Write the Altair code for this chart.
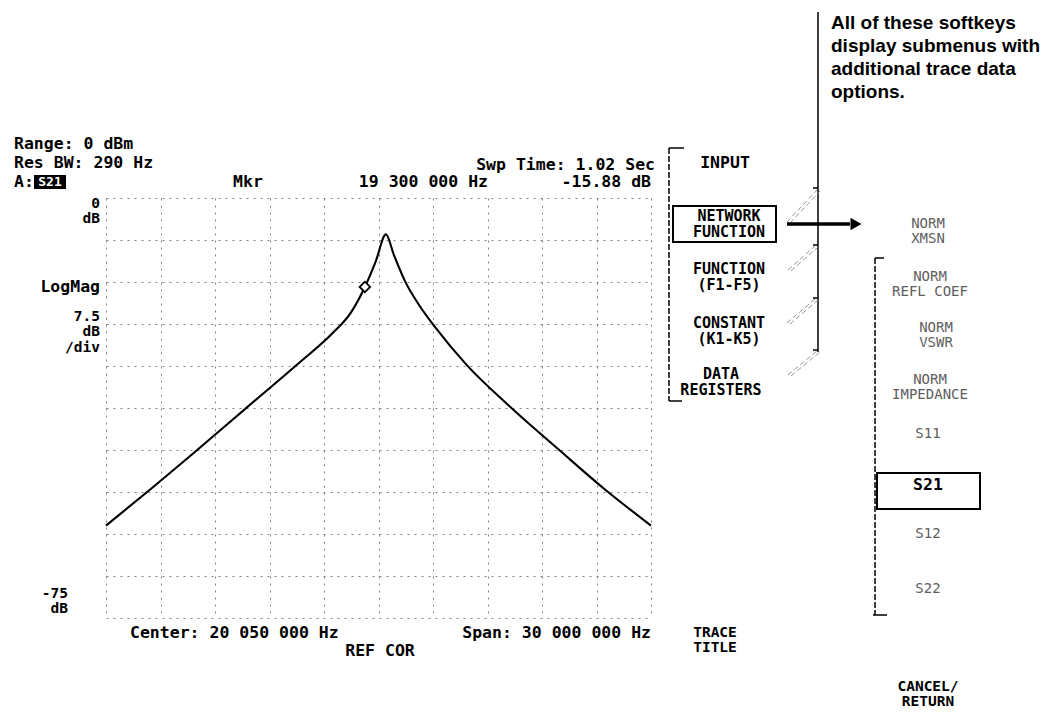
import altair as alt
import pandas as pd

# ---------------- data ----------------
freq_mhz = [5.05, 7.50, 9.78, 12.70, 15.62, 17.50, 18.50, 19.30, 19.90, 20.46,
            20.90, 21.50, 22.30, 23.20, 24.90, 27.20, 30.00, 32.50, 35.05]
mag_db = [-58.5, -52.0, -45.8, -37.7, -29.6, -24.2, -20.6, -15.88, -11.3, -6.5,
          -10.2, -14.8, -19.2, -23.2, -29.8, -37.0, -45.0, -52.0, -58.5]

marker_freq = [19.30]
marker_db = [-15.88]

x_grid = [5.05, 8.05, 11.05, 14.05, 17.05, 20.05, 23.05, 26.05, 29.05, 32.05, 35.05]
y_grid = [0, -7.5, -15, -22.5, -30, -37.5, -45, -52.5, -60, -67.5, -75]

# ---------------- layout ----------------
OX, OY = 106, 198          # page position of the plot area
W, H = 545, 420
MONO = "DejaVu Sans Mono"
SANS = "Liberation Sans"


def tdf(rows, size):
    df = pd.DataFrame(rows, columns=["label", "px", "py"])
    df["vx"] = df["px"] - OX
    # py is the centre of the first line; baseline "top" is used
    df["vy"] = df["py"] - OY - 0.425 * size
    return df


def text_layer(rows, align, font=MONO, size=16.5, weight="bold", color="black",
               line=16):
    return alt.Chart(tdf(rows, size)).mark_text(
        align=align, baseline="top", font=font, fontSize=size,
        fontWeight=weight, color=color, lineBreak="\n", lineHeight=line
    ).encode(
        x=alt.X("vx:Q", scale=None, axis=None),
        y=alt.Y("vy:Q", scale=None, axis=None),
        text="label:N",
    )


def seg_df(rows):
    df = pd.DataFrame(rows, columns=["x1", "y1", "x2", "y2"])
    df["vx"] = df["x1"] - OX
    df["vy"] = df["y1"] - OY
    df["vx2"] = df["x2"] - OX
    df["vy2"] = df["y2"] - OY
    return df


def seg_layer(rows, width=1.5, color="black", dash=None):
    kw = dict(strokeWidth=width, color=color)
    if dash:
        kw["strokeDash"] = dash
    return alt.Chart(seg_df(rows)).mark_rule(**kw).encode(
        x=alt.X("vx:Q", scale=None, axis=None),
        y=alt.Y("vy:Q", scale=None, axis=None),
        x2="vx2:Q",
        y2="vy2:Q",
    )


def rect_layer(rows, fill=None, stroke="black", width=1.8):
    kw = dict(stroke=stroke, strokeWidth=width)
    kw["fill"] = fill if fill else "transparent"
    return alt.Chart(seg_df(rows)).mark_rect(**kw).encode(
        x=alt.X("vx:Q", scale=None, axis=None),
        y=alt.Y("vy:Q", scale=None, axis=None),
        x2="vx2:Q",
        y2="vy2:Q",
    )


# ---------------- main plot ----------------
trace_df = pd.DataFrame({"f": freq_mhz, "db": mag_db})
mk_df = pd.DataFrame({"f": marker_freq, "db": marker_db})

xs = alt.Scale(domain=[5.05, 35.05], nice=False, zero=False)
ys = alt.Scale(domain=[-75, 0], nice=False, zero=False)

grid_axis_x = alt.Axis(values=x_grid, labels=False, ticks=False, domain=False,
                       grid=True, gridColor="#808080", gridDash=[2, 5],
                       gridWidth=1, title=None)
grid_axis_y = alt.Axis(values=y_grid, labels=False, ticks=False, domain=False,
                       grid=True, gridColor="#808080", gridDash=[2, 5],
                       gridWidth=1, title=None)

trace = alt.Chart(trace_df).mark_line(color="black", strokeWidth=2.1,
                                      interpolate="monotone").encode(
    x=alt.X("f:Q", scale=xs, axis=grid_axis_x),
    y=alt.Y("db:Q", scale=ys, axis=grid_axis_y),
)
marker = alt.Chart(mk_df).mark_point(shape="diamond", size=110, filled=True,
                                     fill="white", stroke="black",
                                     strokeWidth=1.8, opacity=1).encode(
    x=alt.X("f:Q", scale=xs),
    y=alt.Y("db:Q", scale=ys),
)
main = alt.layer(trace, marker)

# ---------------- annotations ----------------
topleft_txt = text_layer([
    ("Range: 0 dBm\nRes BW: 290 Hz\nA:", 14, 143),
], "left", line=19)

left_txt = text_layer([
    ("Center: 20 050 000 Hz", 130, 632),
], "left")

center_txt = text_layer([
    ("Mkr", 248, 181),
    ("REF COR", 380, 650),
    ("INPUT", 725, 162),
    ("S21", 928, 484),
], "center")

menu_txt = text_layer([
    ("NETWORK\nFUNCTION", 729, 215),
    ("FUNCTION\n(F1-F5)", 729, 268),
    ("CONSTANT\n(K1-K5)", 729, 322),
    ("DATA\nREGISTERS", 721, 373),
], "center", size=15, line=16)

bottom_menu_txt = text_layer([
    ("TRACE\nTITLE", 715, 632),
    ("CANCEL/\nRETURN", 928, 686),
], "center", size=14.5, line=15.5)

right_txt = text_layer([
    ("Swp Time: 1.02 Sec", 655, 164),
    ("19 300 000 Hz", 488, 181),
    ("-15.88 dB", 651, 181),
    ("LogMag", 100, 286),
    ("Span: 30 000 000 Hz", 651, 632),
], "right")

scale_txt = text_layer([
    ("0\ndB", 100, 203),
    ("7.5\ndB\n/div", 100, 316),
    ("-75\ndB", 68, 593),
], "right", size=14.5, line=15.5)

dim_txt = text_layer([
    ("NORM\nXMSN", 928, 223),
    ("NORM\nREFL COEF", 930, 276),
    ("NORM\nVSWR", 936, 327),
    ("NORM\nIMPEDANCE", 930, 379),
    ("S11", 928, 433),
    ("S12", 928, 533),
    ("S22", 928, 588),
], "center", size=14, weight="normal", color="#5e5e5e", line=15)

note_txt = text_layer([
    ("All of these softkeys\ndisplay submenus with\nadditional trace data\noptions.",
     831, 22),
], "left", font=SANS, size=19, weight="bold", line=23)

inv_box = rect_layer([(34, 175, 66, 189)], fill="black", width=0)
inv_txt = text_layer([("S21", 50, 182)], "center", size=13, color="white")

boxes = rect_layer([(673, 206, 776, 242), (877, 473, 980, 509)], width=2)

solid = seg_layer([
    (818, 12, 818, 352),
    (813, 188, 818, 188),
    (813, 245, 818, 245),
    (813, 298, 818, 298),
    (813, 350, 818, 350),
    (669, 148, 684, 148),
    (669, 401, 682, 401),
    (875, 258, 884, 258),
    (873, 615, 887, 615),
], width=1.5)

dashed = seg_layer([
    (669, 148, 669, 401),
    (875, 258, 875, 615),
], width=1.5, dash=[6, 2])

connectors = seg_layer([
    (787, 222, 817, 190), (790, 223, 820, 191),
    (788, 270, 815, 246), (791, 271, 818, 247),
    (787, 323, 815, 299), (790, 324, 818, 300),
    (788, 375, 817, 351), (791, 376, 820, 352),
], width=0.9, color="#888", dash=[5, 3])

arrow_line = seg_layer([(787, 224, 850, 224)], width=3.5)
arrow_head = alt.Chart(seg_df([(856, 224, 856, 224)])).mark_point(
    shape="triangle-right", size=160, filled=True, color="black", opacity=1
).encode(
    x=alt.X("vx:Q", scale=None, axis=None),
    y=alt.Y("vy:Q", scale=None, axis=None),
)

overlay = alt.layer(
    inv_box, boxes, solid, dashed, connectors, arrow_line, arrow_head,
    topleft_txt, left_txt, center_txt, menu_txt, bottom_menu_txt,
    right_txt, scale_txt, dim_txt, note_txt, inv_txt,
)

chart = alt.layer(main, overlay).resolve_scale(
    x="independent", y="independent"
).properties(
    width=W, height=H,
    autosize=alt.AutoSizeParams(type="none"),
    padding={"left": OX - 8, "top": OY - 8,
             "right": 1044 - (OX - 8) - W, "bottom": 703 - (OY - 8) - H},
    background="white",
).configure_view(stroke=None)

chart.save("out.html", embed_options={"renderer": "svg", "actions": False})
